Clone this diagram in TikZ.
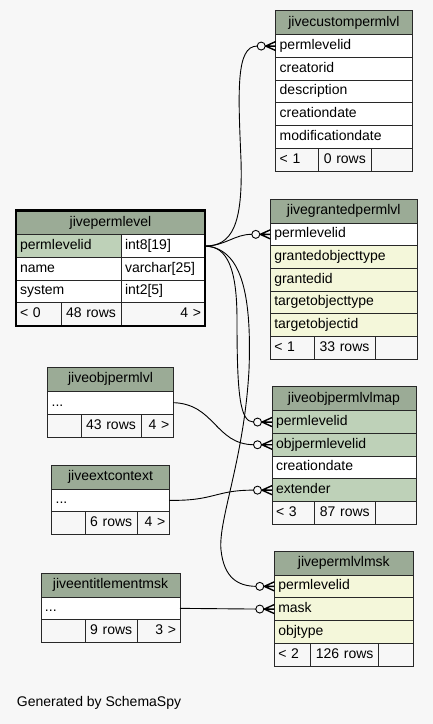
\documentclass[tikz,border=0pt]{standalone}
\usepackage{fontspec}
\setmainfont{Liberation Sans}
\definecolor{bgc}{RGB}{247,247,247}
\definecolor{headc}{RGB}{155,171,150}
\definecolor{keyc}{RGB}{190,209,184}
\definecolor{idxc}{RGB}{244,247,218}
\definecolor{linec}{RGB}{40,40,40}
\begin{document}
\begin{tikzpicture}[
x=1pt,y=-1pt,
cell/.style={
	draw=linec,line width=0.9pt,fill=white,anchor=north west,
	inner xsep=4pt,inner ysep=0pt,outer sep=0pt,
	minimum height=22.7pt,text height=10pt,text depth=3pt,
	align=left,font=\fontsize{14}{16}\selectfont},
head/.style={cell,fill=headc,minimum height=24pt,align=center},
foot/.style={cell,fill=bgc,minimum height=23pt},
link/.style={line width=0.9pt,draw=black},
crow/.pic={
	\draw[link,line width=1.4pt] (-10.5,0) -- (0,0) (-10,0) -- (0,-4.5) (-10,0) -- (0,4.5);
	\draw[link,fill=bgc] (-14.5,0) circle (4pt);
}
]
\fill[bgc] (0,0) rectangle (433,724);

% jivecustompermlvl
\node[head,text width=128.6pt] (cust-0) at (275.7,10.7) {jivecustompermlvl};
\foreach \fld/\clr [count=\i,remember=\i as \j (initially 0)] in
	{permlevelid/white,creatorid/white,description/white,creationdate/white,modificationdate/white}
	\node[cell,fill=\clr,text width=128.6pt] (cust-\i) at (cust-\j.south west) {\fld};
\node[foot,text width=35pt] (cust-f1) at (cust-5.south west) {< 1};
\node[foot,text width=44.3pt,align=center] (cust-f2) at (cust-f1.north east) {0 rows};
\node[foot,text width=33.3pt] (cust-f3) at (cust-f2.north east) {};

% jivegrantedpermlvl
\node[head,text width=139pt] (gran-0) at (270.3,199) {jivegrantedpermlvl};
\foreach \fld/\clr [count=\i,remember=\i as \j (initially 0)] in
	{permlevelid/white,grantedobjecttype/idxc,grantedid/idxc,targetobjecttype/idxc,targetobjectid/idxc}
	\node[cell,fill=\clr,text width=139pt] (gran-\i) at (gran-\j.south west) {\fld};
\node[foot,text width=35.7pt] (gran-f1) at (gran-5.south west) {< 1};
\node[foot,text width=53pt,align=center] (gran-f2) at (gran-f1.north east) {33 rows};
\node[foot,text width=34.3pt] (gran-f3) at (gran-f2.north east) {};

% jivepermlevel
\node[head,text width=181pt] (perm-0) at (16,210.7) {jivepermlevel};
\foreach \fld/\ty/\clr [count=\i,remember=\i as \j (initially 0)] in
	{permlevelid/int8[19]/keyc,name/varchar[25]/white,system/int2[5]/white} {
	\node[cell,fill=\clr,text width=97pt] (perm-\i) at (perm-\j.south west) {\fld};
	\node[cell,text width=76pt] (perm-t\i) at (perm-\i.north east) {\ty};
}
\node[foot,text width=37pt] (perm-f1) at (perm-3.south west) {< 0};
\node[foot,text width=52pt,align=center] (perm-f2) at (perm-f1.north east) {48 rows};
\node[foot,text width=76pt,align=right] (perm-f3) at (perm-f2.north east) {4 >};
\draw[line width=2.6pt] (perm-0.north west) rectangle (perm-f3.south east);

% jiveobjpermlvl
\node[head,text width=117.6pt] (objp-0) at (47.7,367.3) {jiveobjpermlvl};
\node[cell,text width=117.6pt] (objp-1) at (objp-0.south west) {...};
\node[foot,text width=25.3pt] (objp-f1) at (objp-1.south west) {};
\node[foot,text width=52pt,align=center] (objp-f2) at (objp-f1.north east) {43 rows};
\node[foot,text width=24.3pt,align=right] (objp-f3) at (objp-f2.north east) {4 >};

% jiveextcontext
\node[head,text width=109.6pt] (ext-0) at (51.7,465) {jiveextcontext};
\node[cell,text width=109.6pt] (ext-1) at (ext-0.south west) {...};
\node[foot,text width=25.6pt] (ext-f1) at (ext-1.south west) {};
\node[foot,text width=43.7pt,align=center] (ext-f2) at (ext-f1.north east) {6 rows};
\node[foot,text width=24.3pt,align=right] (ext-f3) at (ext-f2.north east) {4 >};

% jiveobjpermlvlmap
\node[head,text width=136pt] (map-0) at (272,386.7) {jiveobjpermlvlmap};
\foreach \fld/\clr [count=\i,remember=\i as \j (initially 0)] in
	{permlevelid/keyc,objpermlevelid/keyc,creationdate/white,extender/keyc}
	\node[cell,fill=\clr,text width=136pt] (map-\i) at (map-\j.south west) {\fld};
\node[foot,text width=34.7pt] (map-f1) at (map-4.south west) {< 3};
\node[foot,text width=52.3pt,align=center] (map-f2) at (map-f1.north east) {87 rows};
\node[foot,text width=33pt] (map-f3) at (map-f2.north east) {};

% jivepermlvlmsk
\node[head,text width=131pt] (msk-0) at (274.3,551) {jivepermlvlmsk};
\foreach \fld/\clr [count=\i,remember=\i as \j (initially 0)] in
	{permlevelid/idxc,mask/idxc,objtype/idxc}
	\node[cell,fill=\clr,text width=131pt] (msk-\i) at (msk-\j.south west) {\fld};
\node[foot,text width=28.4pt] (msk-f1) at (msk-3.south west) {< 2};
\node[foot,text width=60pt,align=center] (msk-f2) at (msk-f1.north east) {126 rows};
\node[foot,text width=26.6pt] (msk-f3) at (msk-f2.north east) {};

% jiveentitlementmsk
\node[head,text width=131pt] (ent-0) at (41,573) {jiveentitlementmsk};
\node[cell,text width=131pt] (ent-1) at (ent-0.south west) {...};
\node[foot,text width=36.3pt] (ent-f1) at (ent-1.south west) {};
\node[foot,text width=43.7pt,align=center] (ent-f2) at (ent-f1.north east) {9 rows};
\node[foot,text width=35pt,align=right] (ent-f3) at (ent-f2.north east) {3 >};

% relations
\draw[link] (perm-t1.east) .. controls (232,246) and (243,225) .. (241,160)
	.. controls (238,90) and (236,46) .. ([xshift=-18.5pt]cust-1.west);
\draw[link] (perm-t1.east) .. controls (225,246) and (235,234) .. ([xshift=-18.5pt]gran-1.west);
\draw[link] (perm-t1.east) .. controls (228,246) and (237,270) .. (237,320)
	.. controls (237,395) and (240,422) .. ([xshift=-18.5pt]map-1.west);
\draw[link] (perm-t1.east) .. controls (240,248) and (252,290) .. (249,370)
	.. controls (244,460) and (218,520) .. (221,550)
	.. controls (224,578) and (238,586) .. ([xshift=-18.5pt]msk-1.west);
\draw[link] (objp-1.east) .. controls (215,404) and (215,444) .. ([xshift=-18.5pt]map-2.west);
\draw[link] (ext-1.east) .. controls (215,501) and (215,490) .. ([xshift=-18.5pt]map-4.west);
\draw[link] (ent-1.east) -- ([xshift=-18.5pt]msk-2.west);
\foreach \n in {cust-1,gran-1,map-1,map-2,map-4,msk-1,msk-2}
	\pic at (\n.west) {crow};

\node[anchor=west,inner sep=0pt,font=\fontsize{14}{16}\selectfont] (gen) at (16.7,702.7) {Generated by SchemaSpy};
\end{tikzpicture}
\end{document}
